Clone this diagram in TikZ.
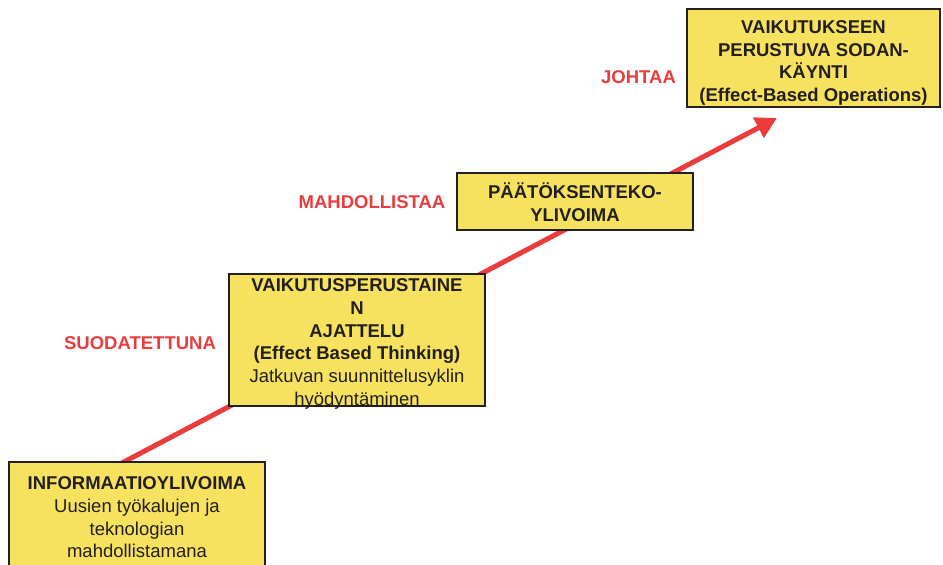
\documentclass[tikz,border=0pt]{standalone}
\usepackage{fontspec}
\setmainfont{Liberation Sans}
\usetikzlibrary{arrows.meta}
\definecolor{boxyellow}{RGB}{246,226,94}
\definecolor{edgegray}{RGB}{35,31,32}
\definecolor{flowred}{RGB}{234,60,60}
\begin{document}
\begin{tikzpicture}[x=1pt,y=-1pt,
  stage/.style={draw=edgegray,line width=1.4pt,fill=boxyellow,inner sep=0pt},
  stagetext/.style={inner sep=0pt,align=center,text=edgegray,
    font=\fontsize{18.5}{22.7}\selectfont},
  steplabel/.style={text=flowred,font=\fontsize{18.5}{22.5}\selectfont\bfseries,inner sep=0pt},
  flow/.style={draw=flowred,line width=5pt,-{Triangle[length=21pt,width=22pt]}}]
\useasboundingbox (0,0) rectangle (943,565);

% rising connector, drawn first so the stages sit on top of it
\coordinate (s) at (120,464);
\coordinate (e) at (777,118);
\draw[flow] (s) -- (e);

\node[stage,minimum width=256,minimum height=109,
  label={[stagetext,yshift=-1pt]center:{\textbf{INFORMAATIOYLIVOIMA}\\Uusien työkalujen ja\\teknologian\\mahdollistamana}}]
  (info) at (137,516.5) {};
\node[stage,minimum width=256,minimum height=132,
  label={[stagetext,yshift=-4pt]center:{\textbf{VAIKUTUSPERUSTAINE}\\\textbf{N}\\\textbf{AJATTELU}\\\textbf{(Effect Based Thinking)}\\Jatkuvan suunnittelusyklin\\hyödyntäminen}}]
  (think) at (357,340) {};
\node[stage,minimum width=236,minimum height=57,
  label={[stagetext,yshift=-1pt]center:{\textbf{PÄÄTÖKSENTEKO-}\\\textbf{YLIVOIMA}}}]
  (decide) at (575,201.5) {};
\node[stage,minimum width=253,minimum height=98,
  label={[stagetext,yshift=-5pt]center:{\textbf{VAIKUTUKSEEN}\\\textbf{PERUSTUVA SODAN-}\\\textbf{KÄYNTI}\\\textbf{(Effect-Based Operations)}}}]
  (ops) at (813.5,58) {};

\node[steplabel] (l1) at (140,343) {SUODATETTUNA};
\node[steplabel] (l2) at (372,202) {MAHDOLLISTAA};
\node[steplabel,anchor=west] (l3) at (601,77) {JOHTAA};
\end{tikzpicture}
\end{document}
